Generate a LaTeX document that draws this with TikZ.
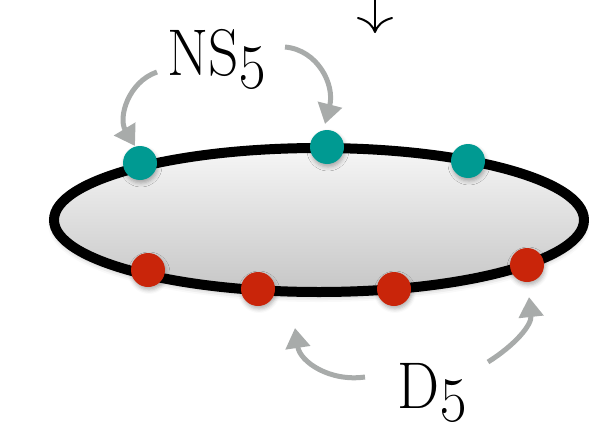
\RequirePackage{fix-cm}
\documentclass[tikz,border=0pt]{standalone}
\usetikzlibrary{arrows.meta,shapes.geometric,shadows.blur}
\definecolor{tealdot}{HTML}{009A92}
\definecolor{reddot}{HTML}{C9250A}
\definecolor{arrowgray}{HTML}{A8ABAA}
\definecolor{disctop}{HTML}{F6F6F6}
\definecolor{discbot}{HTML}{C6C6C6}
\tikzset{
  disc/.style={ellipse, draw=black, line width=10pt, inner sep=0pt,
    top color=disctop, bottom color=discbot,
    blur shadow={shadow xshift=0pt, shadow yshift=-4pt, shadow blur radius=6pt, shadow opacity=35}},
  dot/.style={circle, inner sep=0pt, minimum size=34pt,
    blur shadow={shadow xshift=1pt, shadow yshift=-3pt, shadow blur radius=4pt, shadow opacity=30}},
  ns/.style={dot, fill=tealdot},
  dd/.style={dot, fill=reddot},
  lab/.style={anchor=base, inner sep=0pt, font=\fontsize{66}{72}\selectfont, xscale=0.9},
  pointer/.style={draw=arrowgray, line width=5pt, -{Triangle[length=20pt,width=24pt]}},
}
\begin{document}
\begin{tikzpicture}[x=1pt,y=-1pt]
\useasboundingbox (0,0) rectangle (589,423);
% disc
\node[disc, minimum width=530pt, minimum height=144pt] (disc) at (319,220) {};
% NS5 dots
\node[ns] (n1) at (140,163) {};
\node[ns] (n2) at (327,147) {};
\node[ns] (n3) at (468,161) {};
% D5 dots
\node[dd] (d1) at (148,270) {};
\node[dd] (d2) at (258,289) {};
\node[dd] (d3) at (394,289) {};
\node[dd] (d4) at (527,265) {};
% labels
\node[lab] (nslab) at (217,75) {NS\oldstylenums{5}};
\node[lab] (dlab) at (432,408) {D\oldstylenums{5}};
% arrow endpoints
\coordinate (a1s) at (157,72);
\coordinate (a1e) at (135,146);
\coordinate (a2s) at (285,47);
\coordinate (a2e) at (325,124);
\coordinate (a3s) at (365,377);
\coordinate (a3e) at (295,328);
\coordinate (a4s) at (488,362);
\coordinate (a4e) at (529,297);
\draw[pointer] (a1s) .. controls (128,82) and (118,118) .. (a1e);
\draw[pointer] (a2s) .. controls (318,50) and (335,85) .. (a2e);
\draw[pointer] (a3s) .. controls (330,382) and (300,362) .. (a3e);
\draw[pointer] (a4s) .. controls (515,345) and (532,325) .. (a4e);
% small down arrow at top
\coordinate (ts) at (375,0);
\coordinate (te) at (375,33);
\draw[line width=2pt, -{Computer Modern Rightarrow[length=16pt,width=36pt]}] (ts) -- (te);
\end{tikzpicture}
\end{document}
